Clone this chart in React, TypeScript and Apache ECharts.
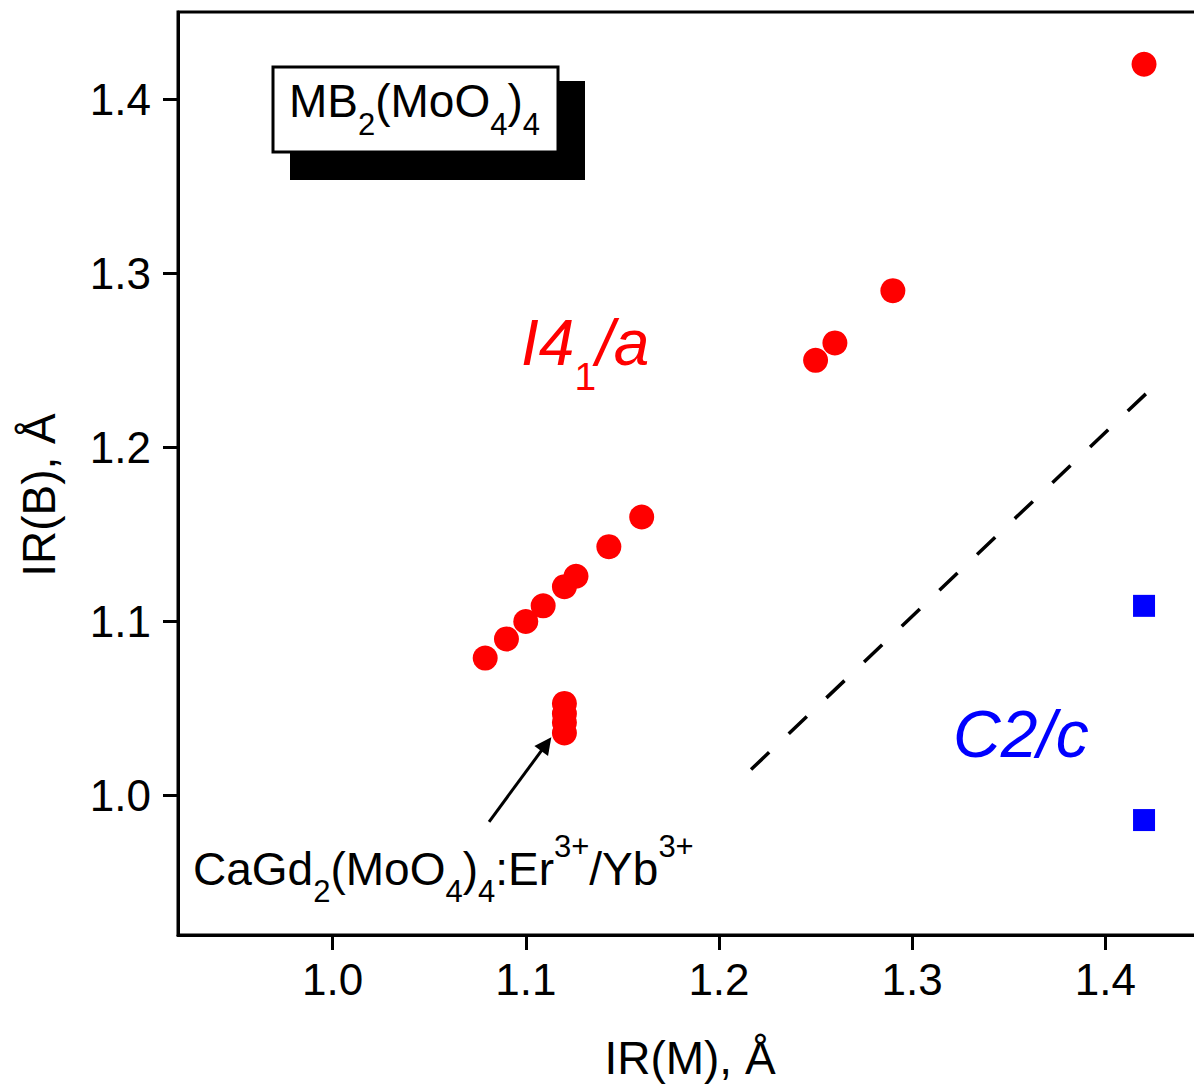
import React, { useEffect, useRef } from "react";
import * as echarts from "echarts";

// Axis ranges and tick labels
const axisMin = 0.92;
const axisMax = 1.45;
const xTickValues = [1.0, 1.1, 1.2, 1.3, 1.4];
const yTickValues = [1.0, 1.1, 1.2, 1.3, 1.4];

// I4_1/a (scheelite-type) compounds: red circles
const tetraX = [1.079, 1.09, 1.1, 1.109, 1.12, 1.126, 1.143, 1.16, 1.25, 1.26, 1.29, 1.42, 1.12, 1.12, 1.12, 1.12];
const tetraY = [1.079, 1.09, 1.1, 1.109, 1.12, 1.126, 1.143, 1.16, 1.25, 1.26, 1.29, 1.42, 1.053, 1.047, 1.042, 1.036];

// C2/c compounds: blue squares
const monoX = [1.42, 1.42];
const monoY = [1.109, 0.986];

// dashed boundary line
const boundaryX = [1.2166, 1.4212];
const boundaryY = [1.015, 1.231];

// annotation arrow (tail -> head)
const arrowTail = [1.081, 0.985];
const arrowHead = [1.1106, 1.0296];

const FONT = "'Liberation Sans', Arial, sans-serif";

export default function App() {
  const ref = useRef<HTMLDivElement>(null);
  useEffect(() => {
    if (!ref.current) return;
    const chart = echarts.init(ref.current, null, { renderer: "svg" });
    const fmt = (v: number) => v.toFixed(1);
    chart.setOption({
      animation: false,
      backgroundColor: "#ffffff",
      grid: {
        left: 178,
        top: 12,
        right: -8,
        bottom: 153,
        containLabel: false,
        outerBoundsMode: "none",
        show: true,
        borderColor: "#000",
        borderWidth: 3,
        backgroundColor: "transparent",
      },
      xAxis: {
        type: "value",
        min: axisMin,
        max: axisMax,
        name: "IR(M), Å",
        nameLocation: "middle",
        nameGap: 100,
        nameTextStyle: { fontSize: 46, fontFamily: FONT, color: "#000" },
        axisLine: { show: true, lineStyle: { color: "#000", width: 3 } },
        axisTick: { show: true, inside: false, length: 15, lineStyle: { color: "#000", width: 3 }, customValues: xTickValues },
        axisLabel: { fontSize: 44, fontFamily: FONT, color: "#000", margin: 22, formatter: fmt, customValues: xTickValues },
        splitLine: { show: false },
      },
      yAxis: {
        type: "value",
        min: axisMin,
        max: axisMax,
        axisLine: { show: true, lineStyle: { color: "#000", width: 3 } },
        axisTick: { show: true, inside: false, length: 15, lineStyle: { color: "#000", width: 3 }, customValues: yTickValues },
        axisLabel: { fontSize: 44, fontFamily: FONT, color: "#000", margin: 27, formatter: fmt, customValues: yTickValues },
        splitLine: { show: false },
      },
      series: [
        {
          name: "boundary",
          type: "line",
          data: boundaryX.map((x, i) => [x, boundaryY[i]]),
          showSymbol: false,
          symbol: "none",
          lineStyle: { color: "#000", width: 3.5, type: [25, 27] },
          silent: true,
          z: 2,
        },
        {
          name: "arrow",
          type: "scatter",
          data: [],
          silent: true,
          markLine: {
            silent: true,
            symbol: ["none", "triangle"],
            symbolSize: 17,
            label: { show: false },
            lineStyle: { color: "#000", width: 3, type: "solid" },
            data: [[{ coord: arrowTail }, { coord: arrowHead }]],
          },
        },
        {
          name: "I41/a",
          type: "scatter",
          data: tetraX.map((x, i) => [x, tetraY[i]]),
          symbol: "circle",
          symbolSize: 25,
          itemStyle: { color: "#ff0000", opacity: 1 },
          z: 3,
        },
        {
          name: "C2/c",
          type: "scatter",
          data: monoX.map((x, i) => [x, monoY[i]]),
          symbol: "rect",
          symbolSize: 22,
          itemStyle: { color: "#0000ff", opacity: 1 },
          z: 3,
        },
      ],
      graphic: [
        {
          type: "rect",
          z: 10,
          shape: { x: 290, y: 81, width: 295, height: 99 },
          style: { fill: "#000" },
        },
        {
          type: "rect",
          z: 11,
          shape: { x: 273, y: 67, width: 285, height: 85 },
          style: { fill: "#fff", stroke: "#000", lineWidth: 3 },
        },
        {
          type: "text",
          z: 12,
          x: 289,
          y: 101,
          style: {
            text: "MB{s|2}(MoO{s|4}){s|4}",
            fontSize: 46,
            fontFamily: FONT,
            fill: "#000",
            align: "left",
            verticalAlign: "middle",
            lineHeight: 78,
            rich: { s: { fontSize: 31, fontFamily: FONT, verticalAlign: "bottom", fill: "#000" } },
          },
        },
        {
          type: "text",
          z: 12,
          x: 521,
          y: 343,
          style: {
            text: "I4{s|1}/a",
            fontSize: 64,
            fontStyle: "italic",
            fontFamily: FONT,
            fill: "#ff0000",
            align: "left",
            verticalAlign: "middle",
            lineHeight: 105,
            rich: { s: { fontSize: 39, fontFamily: FONT, verticalAlign: "bottom", fill: "#ff0000" } },
          },
        },
        {
          type: "text",
          z: 12,
          x: 953,
          y: 734,
          style: {
            text: "C2/c",
            fontSize: 66,
            fontStyle: "italic",
            fontFamily: FONT,
            fill: "#0000ff",
            align: "left",
            verticalAlign: "middle",
          },
        },
        {
          type: "text",
          z: 12,
          x: 193,
          y: 869,
          style: {
            text: "CaGd{sb|2}(MoO{sb|4}){sb|4}:Er{sp|3+}/Yb{sp|3+}",
            fontSize: 46,
            fontFamily: FONT,
            fill: "#000",
            align: "left",
            verticalAlign: "middle",
            lineHeight: 76,
            rich: {
              sb: { fontSize: 31, fontFamily: FONT, verticalAlign: "bottom", fill: "#000" },
              sp: { fontSize: 31, fontFamily: FONT, verticalAlign: "top", fill: "#000" },
            },
          },
        },
        {
          type: "text",
          z: 12,
          x: 39,
          y: 495,
          rotation: Math.PI / 2,
          style: {
            text: "IR(B), Å",
            fontSize: 46,
            fontFamily: FONT,
            fill: "#000",
            align: "center",
            verticalAlign: "middle",
          },
        },
      ],
    });
    return () => chart.dispose();
  }, []);
  return (
    <div
      ref={ref}
      style={{ position: "absolute", left: 0, top: 0, width: 1194, height: 1088, background: "#fff" }}
    />
  );
}
